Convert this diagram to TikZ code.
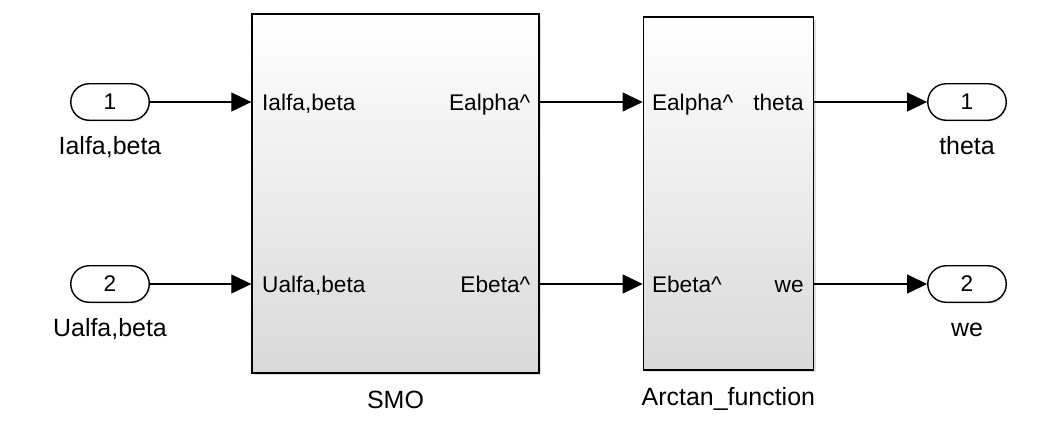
\documentclass[tikz,border=0pt]{standalone}
\usepackage{fontspec}
\setmainfont{Liberation Sans}
\usetikzlibrary{arrows.meta,positioning,shapes.misc,shadows}
\newcommand{\portfont}{\fontsize{12.9}{15}\selectfont}
\newcommand{\namefont}{\fontsize{14.2}{17}\selectfont}

\begin{document}
\begin{tikzpicture}[x=0.02cm,y=-0.02cm,
   >={Triangle[length=0.4cm,width=0.38cm]},
   sig/.style={->,line width=0.6pt},
   port/.style={draw,fill=white,rounded rectangle,line width=0.8pt,minimum width=1.57cm,minimum height=0.73cm,inner sep=0pt,font=\portfont,drop shadow={shadow xshift=0.03cm,shadow yshift=-0.03cm,opacity=0.15}},
   block/.style={draw,line width=0.8pt,shading=axis,top color=white,bottom color=black!15,drop shadow={shadow xshift=0.05cm,shadow yshift=-0.05cm,opacity=0.25}},
   plabel/.style={inner sep=0pt,text height=9.2pt,text depth=0pt,font=\portfont},
   bname/.style={inner sep=0pt,text height=10.4pt,font=\namefont}]
   \useasboundingbox (0,0) rectangle (1047,444);
   % blocks
   \node[block,minimum width=5.74cm,minimum height=7.18cm] (smo) at (395.5,193.5) {};
   \node[block,minimum width=3.4cm,minimum height=7.06cm] (atan) [right=2.06cm of smo] {};
   \node[bname] (smo_name) [below=0.32cm of smo] {SMO};
   \node[bname] (atan_name) [below=0.32cm of atan] {Arctan\_function};
   % in and out ports
   \node[port] (in_1) at (110,102) {1};
   \node[port] (in_2) at (110,284) {2};
   \node[port] (out_1) at (967,102) {1};
   \node[port] (out_2) at (967,284) {2};
   \node[bname] (in_1_name) [below=0.3cm of in_1] {Ialfa,beta};
   \node[bname] (in_2_name) [below=0.3cm of in_2] {Ualfa,beta};
   \node[bname] (out_1_name) [below=0.3cm of out_1] {theta};
   \node[bname] (out_2_name) [below=0.3cm of out_2] {we};
   % port labels inside the blocks
   \node[plabel,anchor=west,xshift=0.21cm] (smo_i1) at (smo.west |- in_1) {Ialfa,beta};
   \node[plabel,anchor=west,xshift=0.21cm] (smo_i2) at (smo.west |- in_2) {Ualfa,beta};
   \node[plabel,anchor=east,xshift=-0.18cm] (smo_o1) at (smo.east |- in_1) {Ealpha\textasciicircum};
   \node[plabel,anchor=east,xshift=-0.18cm] (smo_o2) at (smo.east |- in_2) {Ebeta\textasciicircum};
   \node[plabel,anchor=west,xshift=0.18cm] (atan_i1) at (atan.west |- in_1) {Ealpha\textasciicircum};
   \node[plabel,anchor=west,xshift=0.18cm] (atan_i2) at (atan.west |- in_2) {Ebeta\textasciicircum};
   \node[plabel,anchor=east,xshift=-0.2cm] (atan_o1) at (atan.east |- out_1) {theta};
   \node[plabel,anchor=east,xshift=-0.2cm] (atan_o2) at (atan.east |- out_2) {we};
   % signals
   \draw[sig] (in_1.east) -- (smo.west |- in_1);
   \draw[sig] (in_2.east) -- (smo.west |- in_2);
   \draw[sig] (smo.east |- smo_o1) -- (atan.west |- atan_i1);
   \draw[sig] (smo.east |- smo_o2) -- (atan.west |- atan_i2);
   \draw[sig] (atan.east |- atan_o1) -- (out_1.west);
   \draw[sig] (atan.east |- atan_o2) -- (out_2.west);
\end{tikzpicture}
\end{document}
